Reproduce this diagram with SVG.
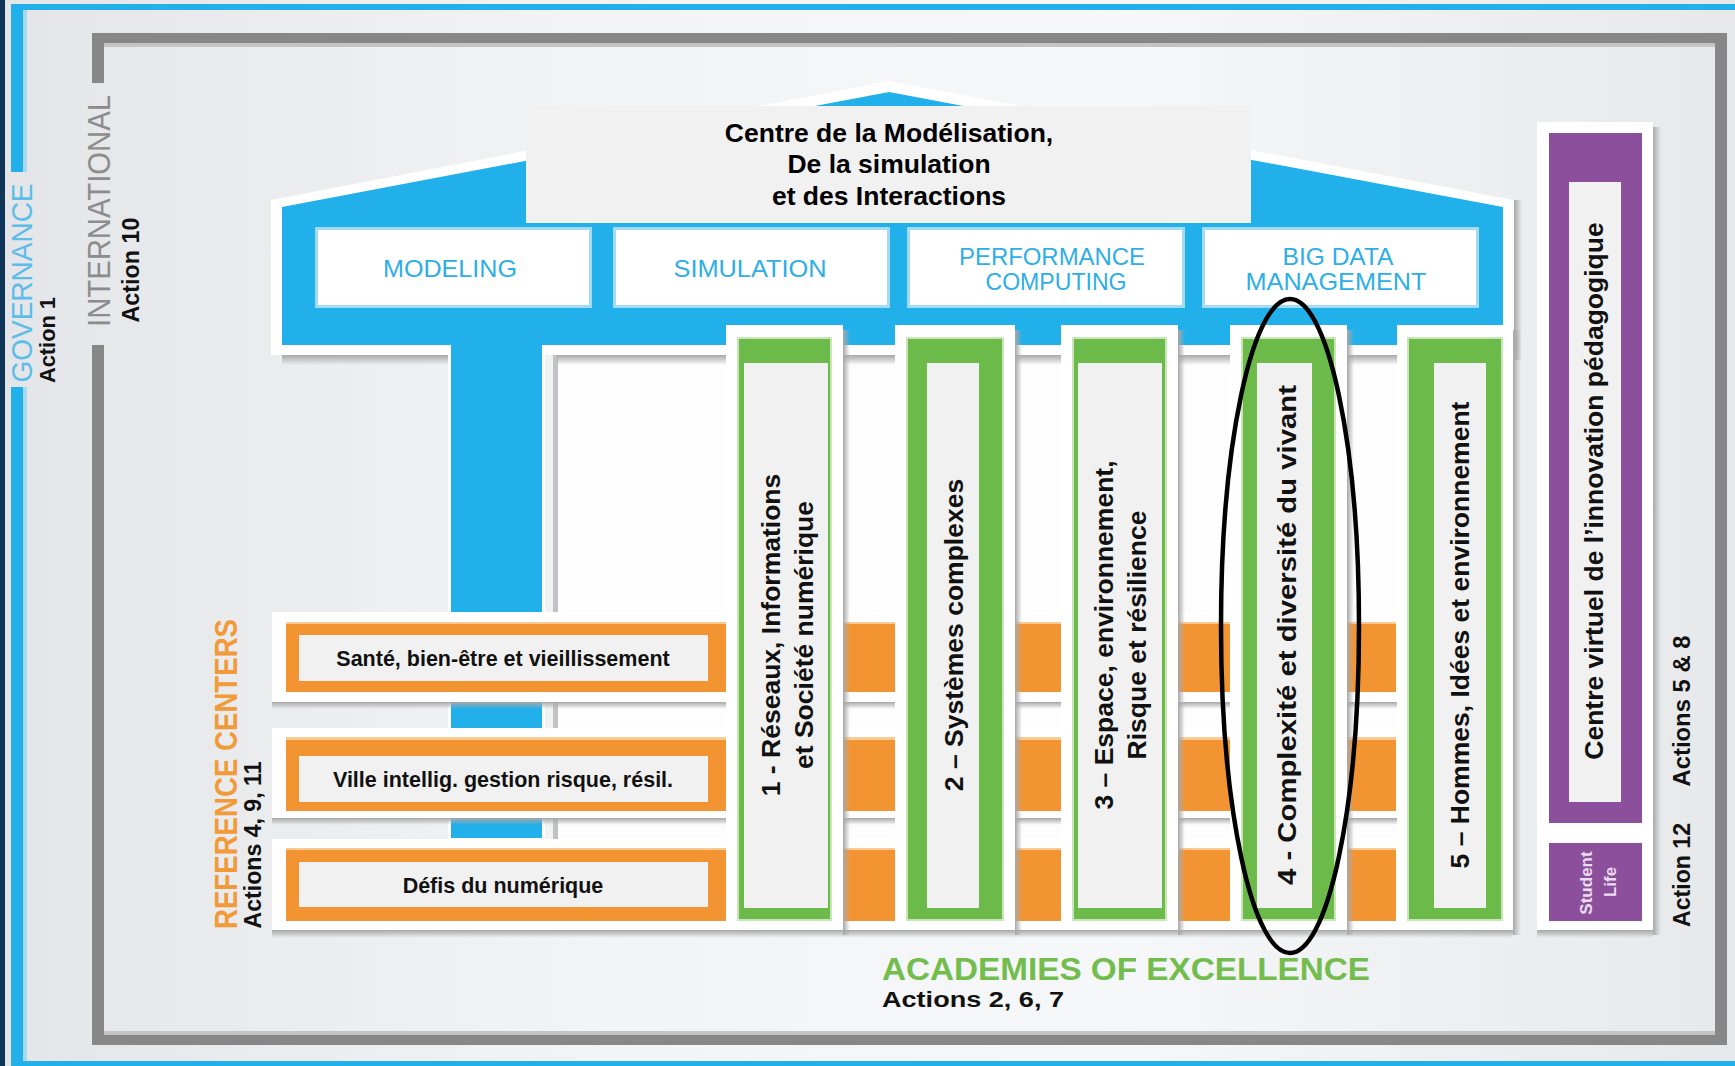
<svg xmlns="http://www.w3.org/2000/svg" width="1735" height="1066" viewBox="0 0 1735 1066">
<defs>
<linearGradient id="bg" x1="0" y1="0" x2="1" y2="0">
<stop offset="0" stop-color="#e3e5e8"/><stop offset="0.35" stop-color="#f3f4f5"/><stop offset="0.65" stop-color="#f6f7f8"/><stop offset="1" stop-color="#e6e8ea"/>
</linearGradient>
<linearGradient id="shV" x1="0" y1="0" x2="0" y2="1">
<stop offset="0" stop-color="#a8a8a8"/><stop offset="1" stop-color="#a8a8a8" stop-opacity="0"/>
</linearGradient>
<linearGradient id="shH" x1="0" y1="0" x2="1" y2="0">
<stop offset="0" stop-color="#a8a8a8"/><stop offset="1" stop-color="#a8a8a8" stop-opacity="0"/>
</linearGradient>
<style>
.gray{fill:#878787}
.blue{fill:#22b0ea}
.white{fill:#ffffff}
.panel{fill:#f1f1f1}
.orange{fill:#f39433}
.green{fill:#6cbb4a;stroke:#c9e6b9;stroke-width:2}
.purple{fill:#8c4f9c}
.shv{fill:url(#shV)}
.shh{fill:url(#shH)}
.hdr{fill:#ffffff;stroke:#a3daf4;stroke-width:3}
.title{font-family:"Liberation Sans",Arial,sans-serif;font-weight:bold;font-size:26.5px;fill:#000;text-anchor:middle}
.htxt{font-family:"Liberation Sans",Arial,sans-serif;font-size:24px;fill:#2eaee6;text-anchor:middle}
.rtxt{font-family:"Liberation Sans",Arial,sans-serif;font-weight:bold;font-size:21.5px;fill:#111;text-anchor:middle}
.vtxt{font-family:"Liberation Sans",Arial,sans-serif;font-weight:bold;font-size:26.5px;fill:#111;text-anchor:middle}
.lab{font-family:"Liberation Sans",Arial,sans-serif;text-anchor:middle}
.act{font-family:"Liberation Sans",Arial,sans-serif;font-weight:bold;fill:#111;text-anchor:middle}
</style>
</defs>

<g id="background">
<rect width="1735" height="1066" fill="url(#bg)"/>
<rect x="0" y="0" width="5" height="1066" fill="#0f3558"/>
<rect x="11" y="4" width="1724" height="6" class="blue"/>
<rect x="11" y="4" width="12" height="168" class="blue"/>
<rect x="23" y="10" width="4" height="162" fill="#a9d9f0"/>
<rect x="11" y="387" width="12" height="679" class="blue"/>
<rect x="23" y="387" width="4" height="674" fill="#a9d9f0"/>
<rect x="11" y="1061" width="1724" height="5" class="blue"/>
<rect x="92" y="33" width="1635" height="10" class="gray"/>
<rect x="104" y="43" width="1611" height="4" fill="#c4c4c4"/>
<rect x="92" y="33" width="12" height="50" class="gray"/>
<rect x="92" y="345" width="12" height="700" class="gray"/>
<rect x="1715" y="33" width="12" height="1012" class="gray"/>
<rect x="104" y="1031" width="1611" height="4" fill="#c4c4c4"/>
<rect x="92" y="1035" width="1635" height="10" class="gray"/>
<rect x="557" y="355" width="956" height="575" fill="#fdfdfd"/>
<rect x="553" y="355" width="5" height="485" fill="#c2c2c2"/>
</g>

<g id="labels">
<text class="lab" transform="translate(32 283) rotate(-90)" font-size="30" fill="#5dbde9" textLength="199" lengthAdjust="spacingAndGlyphs">GOVERNANCE</text>
<text class="act" transform="translate(55 340) rotate(-90)" font-size="22" textLength="86" lengthAdjust="spacingAndGlyphs">Action 1</text>
<text class="lab" transform="translate(110 211) rotate(-90)" font-size="31" fill="#8c8c8c" textLength="232" lengthAdjust="spacingAndGlyphs">INTERNATIONAL</text>
<text class="act" transform="translate(139 270) rotate(-90)" font-size="23" textLength="105" lengthAdjust="spacingAndGlyphs">Action 10</text>
<text class="lab" transform="translate(237 774) rotate(-90)" font-size="32" font-weight="bold" fill="#f39a38" textLength="310" lengthAdjust="spacingAndGlyphs">REFERENCE CENTERS</text>
<text class="act" transform="translate(261 845) rotate(-90)" font-size="23" textLength="167" lengthAdjust="spacingAndGlyphs">Actions 4, 9, 11</text>
<text class="lab" x="1126" y="980" font-size="31" font-weight="bold" fill="#72bd4e" textLength="488" lengthAdjust="spacingAndGlyphs">ACADEMIES OF EXCELLENCE</text>
<text class="act" x="973" y="1007" font-size="22" textLength="182" lengthAdjust="spacingAndGlyphs">Actions 2, 6, 7</text>
<text class="act" transform="translate(1690 711) rotate(-90)" font-size="24" textLength="151" lengthAdjust="spacingAndGlyphs">Actions 5 &amp; 8</text>
<text class="act" transform="translate(1690 875) rotate(-90)" font-size="23" textLength="104" lengthAdjust="spacingAndGlyphs">Action 12</text>
</g>

<g id="centre">
<polygon class="white" points="271,200 889,81 1514,200 1514,355 545,355 545,840 448,840 448,355 271,355"/>
<polygon class="blue" points="282,207 889,92 1503,207 1503,345 542,345 542,838 451,838 451,345 282,345"/>
<rect x="282" y="355" width="166" height="10" class="shv"/>
<rect x="557" y="355" width="956" height="10" class="shv"/>
<rect x="1514" y="200" width="8" height="160" class="shh"/>
<rect x="526" y="106" width="725" height="117" class="panel"/>
<text class="title" x="889" y="142">Centre de la Modélisation,</text>
<text class="title" x="889" y="173">De la simulation</text>
<text class="title" x="889" y="205">et des Interactions</text>
</g>

<g id="modeling">
<rect class="hdr" x="316.5" y="228.5" width="274" height="78"/>
<text class="htxt" x="450" y="277" font-size="25" textLength="134" lengthAdjust="spacingAndGlyphs">MODELING</text>
</g>
<g id="simulation">
<rect class="hdr" x="614.5" y="228.5" width="274" height="78"/>
<text class="htxt" x="750" y="277" font-size="25" textLength="153" lengthAdjust="spacingAndGlyphs">SIMULATION</text>
</g>
<g id="performance-computing">
<rect class="hdr" x="908.5" y="228.5" width="275" height="78"/>
<text class="htxt" x="1052" y="265" textLength="186" lengthAdjust="spacingAndGlyphs">PERFORMANCE</text>
<text class="htxt" x="1056" y="290" textLength="141" lengthAdjust="spacingAndGlyphs">COMPUTING</text>
</g>
<g id="big-data-management">
<rect class="hdr" x="1203.5" y="228.5" width="274" height="78"/>
<text class="htxt" x="1338" y="265" textLength="111" lengthAdjust="spacingAndGlyphs">BIG DATA</text>
<text class="htxt" x="1336" y="290" textLength="181" lengthAdjust="spacingAndGlyphs">MANAGEMENT</text>
</g>

<g id="ref-sante">
<rect class="white" x="272" y="612" width="1241" height="90"/>
<rect class="shv" x="272" y="702" width="1241" height="7"/>
<rect class="orange" x="286" y="622" width="1110" height="70"/>
<rect x="286" y="622" width="1110" height="2" fill="#f9c996"/>
<rect class="panel" x="299" y="635" width="409" height="46"/>
<text class="rtxt" x="503" y="666">Santé, bien-être et vieillissement</text>
</g>
<g id="ref-ville">
<rect class="white" x="272" y="728" width="1241" height="90"/>
<rect class="shv" x="272" y="818" width="1241" height="7"/>
<rect class="orange" x="286" y="737" width="1110" height="74"/>
<rect x="286" y="737" width="1110" height="3" fill="#f9c996"/>
<rect class="panel" x="299" y="756" width="409" height="46"/>
<text class="rtxt" x="503" y="787">Ville intellig. gestion risque, résil.</text>
</g>
<g id="ref-defis">
<rect class="white" x="272" y="839" width="1241" height="91"/>
<rect class="shv" x="272" y="930" width="1241" height="8"/>
<rect class="orange" x="286" y="848" width="1110" height="73"/>
<rect x="286" y="848" width="1110" height="2" fill="#f9c996"/>
<rect class="panel" x="299" y="862" width="409" height="45"/>
<text class="rtxt" x="503" y="893">Défis du numérique</text>
</g>

<g id="academy-1">
<rect class="white" x="726" y="325" width="117" height="605"/>
<rect class="shh" x="843" y="330" width="7" height="605"/>
<rect class="green" x="738" y="338" width="93" height="582"/>
<rect class="panel" x="744" y="363" width="84" height="545"/>
<text class="vtxt" transform="translate(780 635) rotate(-90)">1 - Réseaux, Informations</text>
<text class="vtxt" transform="translate(813 635) rotate(-90)">et Société numérique</text>
</g>
<g id="academy-2">
<rect class="white" x="895" y="325" width="120" height="605"/>
<rect class="shh" x="1015" y="330" width="7" height="605"/>
<rect class="green" x="907" y="338" width="96" height="582"/>
<rect class="panel" x="927" y="363" width="52" height="545"/>
<text class="vtxt" transform="translate(962.5 635) rotate(-90)">2 – Systèmes complexes</text>
</g>
<g id="academy-3">
<rect class="white" x="1061" y="325" width="117" height="605"/>
<rect class="shh" x="1178" y="330" width="7" height="605"/>
<rect class="green" x="1073" y="338" width="93" height="582"/>
<rect class="panel" x="1078" y="363" width="84" height="545"/>
<text class="vtxt" transform="translate(1113 635) rotate(-90)">3 – Espace, environnement,</text>
<text class="vtxt" transform="translate(1146 635) rotate(-90)">Risque et résilience</text>
</g>
<g id="academy-4">
<rect class="white" x="1230" y="325" width="117" height="605"/>
<rect class="shh" x="1347" y="330" width="7" height="605"/>
<rect class="green" x="1242" y="338" width="93" height="582"/>
<rect class="panel" x="1257" y="363" width="55" height="545"/>
<text class="vtxt" transform="translate(1296 635) rotate(-90)" font-size="31" textLength="500" lengthAdjust="spacingAndGlyphs">4 - Complexité et diversité du vivant</text>
</g>
<g id="academy-5">
<rect class="white" x="1397" y="325" width="116" height="605"/>
<rect class="shh" x="1513" y="330" width="8" height="605"/>
<rect class="green" x="1408" y="338" width="94" height="582"/>
<rect class="panel" x="1434" y="363" width="52" height="545"/>
<text class="vtxt" transform="translate(1469 635) rotate(-90)">5 – Hommes, Idées et environnement</text>
</g>

<g id="centre-virtuel">
<rect class="white" x="1537" y="122" width="116" height="808"/>
<rect class="shh" x="1653" y="127" width="8" height="808"/>
<rect class="shv" x="1537" y="930" width="116" height="8"/>
<rect class="purple" x="1549" y="133" width="93" height="690"/>
<rect class="panel" x="1569" y="182" width="52" height="620"/>
<text class="vtxt" transform="translate(1603 491) rotate(-90)">Centre virtuel de l’innovation pédagogique</text>
</g>
<g id="student-life">
<rect class="purple" x="1549" y="843" width="93" height="78"/>
<text class="lab" transform="translate(1592 883) rotate(-90)" font-size="17" font-weight="bold" fill="#eadcf0">Student</text>
<text class="lab" transform="translate(1616 882) rotate(-90)" font-size="17" font-weight="bold" fill="#eadcf0">Life</text>
</g>

<g id="connectors">
<ellipse cx="1290" cy="626" rx="69" ry="327" fill="none" stroke="#000" stroke-width="4.5"/>
</g>
</svg>
